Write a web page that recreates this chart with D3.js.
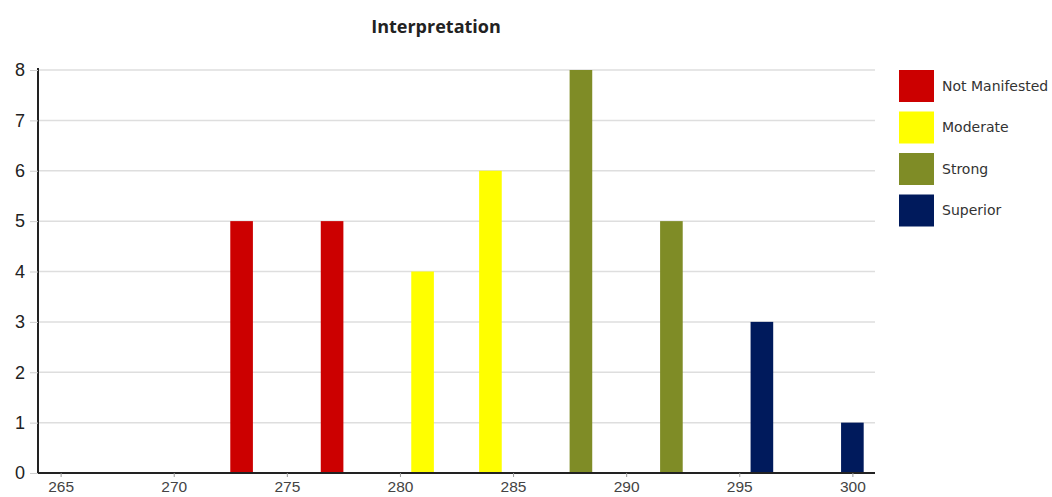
<!DOCTYPE html>
<html>
<head>
<meta charset="utf-8">
<script src="https://cdn.jsdelivr.net/npm/d3@7"></script>
<style>
  html, body { margin: 0; padding: 0; background: #fff; }
  svg { display: block; }
</style>
</head>
<body>
<svg id="chart" width="1052" height="497"></svg>
<script>
// Scores and how many fall at each score, grouped by interpretation level
const scores = [273, 277, 281, 284, 288, 292, 296, 300];
const counts = [5, 5, 4, 6, 8, 5, 3, 1];
const levels = ["Not Manifested", "Not Manifested", "Moderate", "Moderate", "Strong", "Strong", "Superior", "Superior"];

const legendLabels = ["Not Manifested", "Moderate", "Strong", "Superior"];
const legendColors = ["#cc0000", "#ffff00", "#7f8c26", "#001a5c"];

const xTicks = [265, 270, 275, 280, 285, 290, 295, 300];
const yTicks = [0, 1, 2, 3, 4, 5, 6, 7, 8];

const svg = d3.select("#chart");

const x = d3.scaleLinear().domain([264, 301]).range([38, 875]);
const y = d3.scaleLinear().domain([0, 8]).range([473, 70]);
const color = d3.scaleOrdinal().domain(legendLabels).range(legendColors);

// Title
svg.append("text")
  .attr("x", 436).attr("y", 33)
  .attr("text-anchor", "middle")
  .attr("font-family", "'Open Sans', sans-serif")
  .attr("font-weight", "bold")
  .attr("font-size", 18)
  .attr("fill", "#222")
  .text("Interpretation");

// Horizontal gridlines
svg.append("g")
  .selectAll("line")
  .data(yTicks.filter(d => d > 0))
  .join("line")
  .attr("x1", x.range()[0]).attr("x2", x.range()[1])
  .attr("y1", d => y(d)).attr("y2", d => y(d))
  .attr("stroke", "#dedede")
  .attr("stroke-width", 1.5);

// Bars, one score unit wide
const data = scores.map((s, i) => ({ score: s, count: counts[i], level: levels[i] }));
const barW = x(1) - x(0);
svg.append("g")
  .selectAll("rect")
  .data(data)
  .join("rect")
  .attr("x", d => x(d.score) - barW / 2)
  .attr("width", barW)
  .attr("y", d => y(d.count))
  .attr("height", d => y(0) - y(d.count))
  .attr("fill", d => color(d.level));

// Y axis
const yAxis = svg.append("g")
  .attr("transform", `translate(${x.range()[0]},0)`)
  .call(d3.axisLeft(y).tickValues(yTicks).tickFormat(d3.format("d")).tickSize(8).tickPadding(5));
yAxis.select(".domain").attr("stroke", "#222").attr("stroke-width", 2)
  .attr("d", `M0,${y(8) - 2}V${y(0)}`);
yAxis.selectAll(".tick line").attr("stroke", "#cfcfcf");
yAxis.selectAll(".tick text")
  .attr("font-family", "'Liberation Sans', Arial, sans-serif")
  .attr("font-size", 18)
  .attr("fill", "#222");

// X axis
const xAxis = svg.append("g")
  .attr("transform", `translate(0,${y(0)})`)
  .call(d3.axisBottom(x).tickValues(xTicks).tickFormat(d3.format("d")).tickSize(4).tickPadding(4));
xAxis.select(".domain").attr("stroke", "#222").attr("stroke-width", 2)
  .attr("d", `M${x.range()[0]},0H${x.range()[1]}`);
xAxis.selectAll(".tick line").attr("stroke", "#999");
xAxis.selectAll(".tick text")
  .attr("font-family", "'Liberation Sans', Arial, sans-serif")
  .attr("font-size", 15.5)
  .attr("fill", "#444");

// Legend
const legend = svg.append("g").attr("transform", "translate(899,70)");
const item = legend.selectAll("g")
  .data(legendLabels)
  .join("g")
  .attr("transform", (d, i) => `translate(0,${i * 41.5})`);
item.append("rect")
  .attr("width", 35).attr("height", 32)
  .attr("fill", d => color(d));
item.append("text")
  .attr("x", 43).attr("y", 16)
  .attr("dy", "0.35em")
  .attr("font-family", "'DejaVu Sans', Verdana, sans-serif")
  .attr("font-size", 14)
  .attr("fill", "#333")
  .text(d => d);
</script>
</body>
</html>
